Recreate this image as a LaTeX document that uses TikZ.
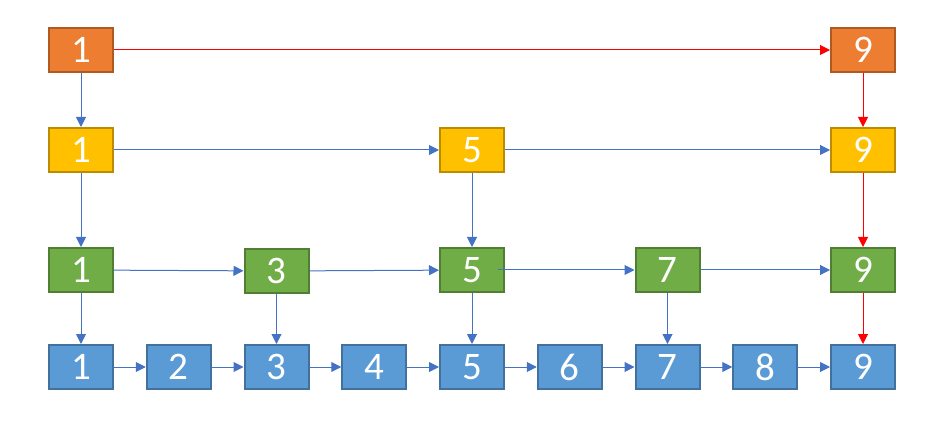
\documentclass[tikz,border=0pt]{standalone}
\usepackage{fontspec}
\setmainfont{Carlito}
\usetikzlibrary{arrows.meta}
\definecolor{cOrange} {HTML}{ED7D31}
\definecolor{cOrangeD}{HTML}{AE5A21}
\definecolor{cYellow} {HTML}{FFC000}
\definecolor{cYellowD}{HTML}{BC8C00}
\definecolor{cGreen}  {HTML}{70AD47}
\definecolor{cGreenD} {HTML}{507E32}
\definecolor{cBlue}   {HTML}{5B9BD5}
\definecolor{cBlueD}  {HTML}{41719C}
\definecolor{cLink}   {HTML}{4472C4}
\tikzset{
  >={Triangle[length=10pt,width=10pt]},
  box/.style={draw,minimum width=64pt,minimum height=44pt,inner sep=0pt,
              line width=2pt,text=white,font=\fontsize{39}{40}\selectfont},
  boxO/.style={box,fill=cOrange,draw=cOrangeD},
  boxY/.style={box,fill=cYellow,draw=cYellowD},
  boxG/.style={box,fill=cGreen,draw=cGreenD},
  boxB/.style={box,fill=cBlue,draw=cBlueD},
  link/.style={->,cLink,line width=1pt},
  hot/.style={->,red,line width=1pt},
}
\begin{document}
\begin{tikzpicture}[x=1pt,y=-1pt]
  \useasboundingbox (0,0) rectangle (940,422);
  % top level
  \node[boxO] (o1) at (81,50)  {1};
  \node[boxO] (o9) at (863,50) {9};
  % second level
  \node[boxY] (y1) at (81,150)  {1};
  \node[boxY] (y5) at (472,150) {5};
  \node[boxY] (y9) at (863,150) {9};
  % third level
  \node[boxG] (g1) at (81,270)    {1};
  \node[boxG] (g3) at (276.5,271) {3};
  \node[boxG] (g5) at (472,270)   {5};
  \node[boxG] (g7) at (667.5,270) {7};
  \node[boxG] (g9) at (863,270)   {9};
  % base list
  \foreach \i in {1,...,9}
    \node[boxB] (b\i) at ({81+97.75*(\i-1)},367) {\i};
  \foreach \i [count=\j from 2] in {1,...,8}
    \draw[link] (b\i) -- (b\j);

  % forward links
  \draw[hot]  (o1) -- (o9);
  \draw[link] (y1) -- (y5);
  \draw[link] (y5) -- (y9);
  \draw[link] (g1) -- (g3);
  \draw[link] (g3) -- (g5);
  \draw[link] ([xshift=-7pt]g5.east) -- (g7);
  \draw[link] (g7) -- (g9);

  % down links
  \draw[link] (o1) -- (y1);
  \draw[link] (y1) -- (g1);
  \draw[link] (g1) -- (b1);
  \draw[link] (g3) -- (b3);
  \draw[link] (y5) -- (g5);
  \draw[link] (g5) -- (b5);
  \draw[link] (g7) -- (b7);
  \draw[hot]  (o9) -- (y9);
  \draw[hot]  (y9) -- (g9);
  \draw[hot]  (g9) -- (b9);
\end{tikzpicture}
\end{document}
